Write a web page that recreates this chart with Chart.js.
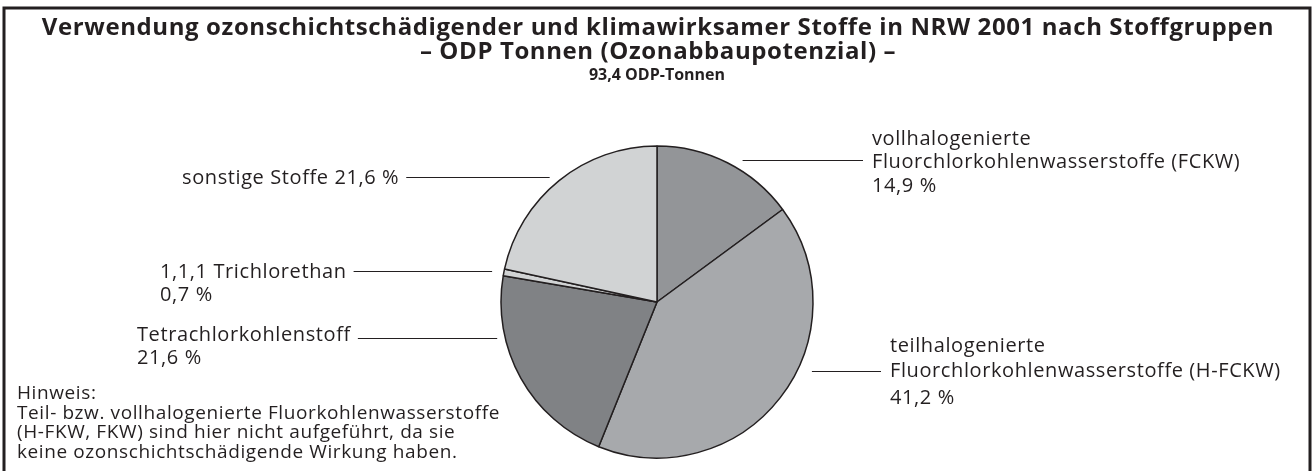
<!DOCTYPE html>
<html>
<head>
<meta charset="utf-8">
<script src="https://cdn.jsdelivr.net/npm/chart.js@4.4.1/dist/chart.umd.min.js"></script>
<style>
  html, body { margin: 0; padding: 0; background: #fff; }
</style>
</head>
<body>
<canvas id="odpChart" width="1312" height="471"></canvas>
<script>
// data
const categories = [
  'vollhalogenierte Fluorchlorkohlenwasserstoffe (FCKW)',
  'teilhalogenierte Fluorchlorkohlenwasserstoffe (H-FCKW)',
  'Tetrachlorkohlenstoff',
  '1,1,1 Trichlorethan',
  'sonstige Stoffe'
];
const shares = [14.9, 41.2, 21.6, 0.7, 21.6];
const labelLines = [
  ['vollhalogenierte', 'Fluorchlorkohlenwasserstoffe (FCKW)'],
  ['teilhalogenierte', 'Fluorchlorkohlenwasserstoffe (H-FCKW)'],
  ['Tetrachlorkohlenstoff'],
  ['1,1,1 Trichlorethan'],
  ['sonstige Stoffe']
];
const titleLines = [
  'Verwendung ozonschichtschädigender und klimawirksamer Stoffe in NRW 2001 nach Stoffgruppen',
  '– ODP Tonnen (Ozonabbaupotenzial) –'
];
const totalText = '93,4 ODP-Tonnen';
const noteLines = [
  'Hinweis:',
  'Teil- bzw. vollhalogenierte Fluorkohlenwasserstoffe',
  '(H-FKW, FKW) sind hier nicht aufgeführt, da sie',
  'keine ozonschichtschädigende Wirkung haben.'
];

const ink = '#231f20';
const sliceColors = ['#939598', '#a7a9ac', '#808285', '#d1d3d4', '#d1d3d4'];
const fontFamily = '"Open Sans", "Noto Sans", sans-serif';

// where each label sits (left edge x, baselines), the row the leader line attaches to
// and how far the line stops short of the pie edge
const labelLayout = [
  { side: 'right', x: 872, baselines: [145, 168, 192], leadRow: 1, lineY: 160, gap: 21 },
  { side: 'right', x: 890, baselines: [352, 377, 404], leadRow: 1, lineY: 371, gap: 15 },
  { side: 'left',  x: 137, baselines: [341, 364], leadRow: 0, lineY: 338, gap: 8 },
  { side: 'left',  x: 160, baselines: [278, 301], leadRow: 0, lineY: 271, gap: 12 },
  { side: 'left',  x: 182, baselines: [184], leadRow: 0, lineY: 177, gap: 14, inline: true }
];

const pct = v => v.toFixed(1).replace('.', ',') + ' %';

function setFont(ctx, font, spacing) {
  ctx.font = font;
  if ('letterSpacing' in ctx) ctx.letterSpacing = spacing + 'px';
}

const decorations = {
  id: 'decorations',
  beforeDraw(chart) {
    const ctx = chart.ctx;
    ctx.save();
    ctx.fillStyle = '#fff';
    ctx.fillRect(0, 0, chart.width, chart.height);
    ctx.strokeStyle = ink;
    ctx.lineWidth = 3;
    ctx.strokeRect(4, 8, 1306, 470);
    ctx.restore();
  },
  afterDraw(chart) {
    const ctx = chart.ctx;
    const arc = chart.getDatasetMeta(0).data[0];
    const cx = arc.x, cy = arc.y, r = arc.outerRadius;
    ctx.save();
    ctx.fillStyle = ink;
    ctx.strokeStyle = ink;

    // title
    ctx.textAlign = 'center';
    ctx.textBaseline = 'alphabetic';
    setFont(ctx, 'bold 24px ' + fontFamily, 0.6);
    ctx.fillText(titleLines[0], 658, 35);
    ctx.fillText(titleLines[1], 658, 59);
    setFont(ctx, 'bold 16px ' + fontFamily, 0);
    ctx.fillText(totalText, 657, 80);

    // slice labels with leader lines
    ctx.textAlign = 'left';
    setFont(ctx, '20px ' + fontFamily, 0.6);
    ctx.lineWidth = 1;
    labelLayout.forEach((lay, i) => {
      const lines = lay.inline
        ? [labelLines[i][0] + ' ' + pct(shares[i])]
        : labelLines[i].concat([pct(shares[i])]);
      lines.forEach((t, k) => ctx.fillText(t, lay.x, lay.baselines[k]));
      const dy = lay.lineY - cy;
      const edge = Math.sqrt(Math.max(r * r - dy * dy, 0));
      let x0, x1;
      if (lay.side === 'right') {
        x0 = cx + edge + lay.gap;
        x1 = lay.x - 9;
      } else {
        x0 = lay.x + ctx.measureText(lines[lay.leadRow]).width + 7;
        x1 = cx - edge - lay.gap;
      }
      ctx.beginPath();
      ctx.moveTo(x0, lay.lineY + 0.5);
      ctx.lineTo(x1, lay.lineY + 0.5);
      ctx.stroke();
    });

    // note
    setFont(ctx, '19px ' + fontFamily, 0.6);
    noteLines.forEach((t, k) => ctx.fillText(t, 17, 399 + k * 19.5));
    ctx.restore();
  }
};

new Chart(document.getElementById('odpChart'), {
  type: 'pie',
  data: {
    labels: categories,
    datasets: [{
      data: shares,
      backgroundColor: sliceColors,
      borderColor: ink,
      borderWidth: 1.5
    }]
  },
  options: {
    responsive: false,
    animation: false,
    events: [],
    radius: 156,
    layout: { padding: { left: 2, right: 0, top: 140, bottom: 7 } },
    plugins: {
      legend: { display: false },
      tooltip: { enabled: false },
      title: { display: false }
    }
  },
  plugins: [decorations]
});
</script>
</body>
</html>
